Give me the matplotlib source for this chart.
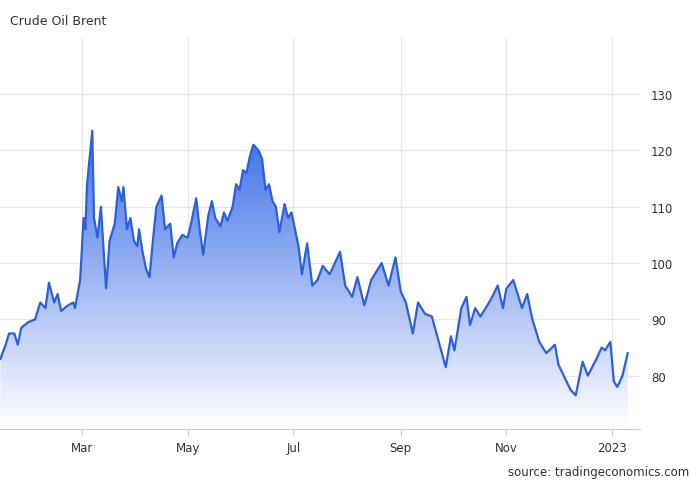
import numpy as np
import pandas as pd
import matplotlib.pyplot as plt
from matplotlib.patches import Polygon

# Brent crude daily close (approx), day offsets from 2022-01-01
day_offset = [12, 15, 17, 20, 22, 24, 28, 32, 35, 38, 40, 43, 45, 47, 51, 54, 55, 58,
              60, 61, 62, 65, 66, 68, 70, 72, 73, 75, 78, 80, 82, 83, 85, 87, 89, 91,
              92, 94, 96, 98, 100, 102, 105, 107, 110, 112, 114, 117, 120, 122, 125,
              127, 129, 132, 134, 136, 139, 141, 143, 146, 148, 150, 152, 154, 156,
              158, 161, 163, 165, 167, 169, 171, 173, 176, 178, 180, 184, 186, 189,
              192, 195, 198, 202, 208, 211, 215, 218, 222, 226, 232, 236, 240, 243,
              246, 250, 253, 257, 261, 265, 269, 272, 274, 278, 281, 283, 286, 289,
              295, 299, 302, 304, 308, 311, 313, 316, 319, 323, 327, 332, 334, 341,
              344, 348, 351, 356, 359, 361, 364, 366, 368, 371, 374]
price = [83, 85.5, 87.5, 87.5, 85.5, 88.5, 89.5, 90, 93, 92, 96.5, 93, 94.5, 91.5,
         92.5, 93, 92, 97, 108, 106, 114, 123.5, 108, 104.5, 110, 100, 95.5, 104,
         107, 113.5, 111, 113.5, 106, 108, 104, 103, 106, 102, 99, 97.5, 104, 110,
         112, 106, 107, 101, 103.5, 105, 104.5, 107, 111.5, 106, 101.5, 108.5, 111,
         108, 106.5, 109, 107.5, 110, 114, 113, 116.5, 116, 119, 121, 120, 118.5,
         113, 114, 111, 110, 105.5, 110.5, 108, 109, 103, 98, 103.5, 96, 97, 99.5,
         98, 102, 96, 94, 97.5, 92.5, 97, 100, 96, 101, 95, 93, 87.5, 93, 91, 90.5,
         86, 81.5, 87, 84.5, 92, 94, 89, 92, 90.5, 93.5, 96, 92, 95.5, 97, 94, 92,
         94.5, 90, 86, 84, 85.5, 82, 77.5, 76.5, 82.5, 80, 83, 85, 84.5, 86, 79, 78,
         80, 84]

dates = pd.Timestamp("2022-01-01") + pd.to_timedelta(day_offset, unit="D")
month_ticks = pd.to_datetime(["2022-03-01", "2022-05-01", "2022-07-01",
                              "2022-09-01", "2022-11-01", "2023-01-01"])
month_labels = ["Mar", "May", "Jul", "Sep", "Nov", "2023"]
y_ticks = [80, 90, 100, 110, 120, 130]

fig = plt.figure(figsize=(7, 4.85), dpi=100)
ax = fig.add_axes([0, 0.113, 0.914, 0.807])
ymin, ymax = 70.5, 140
x0 = pd.Timestamp("2022-01-12 18:00")
x1 = pd.Timestamp("2022-01-01") + pd.Timedelta(days=381)
ax.set_xlim(x0, x1)
ax.set_ylim(ymin, ymax)

xs = dates.to_pydatetime()
import matplotlib.dates as mdates
xn = mdates.date2num(xs)
# gradient fill clipped under the line
grad = np.linspace(1, 0, 256).reshape(-1, 1)
from matplotlib.colors import LinearSegmentedColormap
cmap = LinearSegmentedColormap.from_list("g", ["#ffffff", "#3d6fe6"])
im = ax.imshow(grad, cmap=cmap, aspect="auto", alpha=1,
               extent=[xn[0], xn[-1], ymin, max(price)], zorder=1, vmin=0, vmax=1)
poly = Polygon(np.column_stack([np.r_[xn[0], xn, xn[-1]], np.r_[ymin, price, ymin]]),
               closed=True, facecolor="none", edgecolor="none")
ax.add_patch(poly)
im.set_clip_path(poly)
ax.plot(xs, price, color="#2c5fdc", lw=1.6, zorder=3)

ax.set_xticks(month_ticks)
ax.set_xticklabels(month_labels)
ax.set_yticks(y_ticks)
ax.yaxis.tick_right()
ax.grid(True, color="#e6e6e6", lw=0.8, zorder=0)
ax.set_axisbelow(True)
for s in ["top", "left", "right"]:
    ax.spines[s].set_visible(False)
ax.spines["bottom"].set_color("#cccccc")
ax.tick_params(axis="y", length=0, labelsize=8.5, colors="#333333", pad=8)
ax.tick_params(axis="x", length=5, color="#cccccc", labelsize=8.5, colors="#333333")

fig.text(0.014, 0.955, "Crude Oil Brent", fontsize=9, color="#333333", va="center")
fig.text(0.985, 0.025, "source: tradingeconomics.com", fontsize=8.5,
         color="#333333", ha="right", va="center")
fig.savefig("out.png", dpi=100)
